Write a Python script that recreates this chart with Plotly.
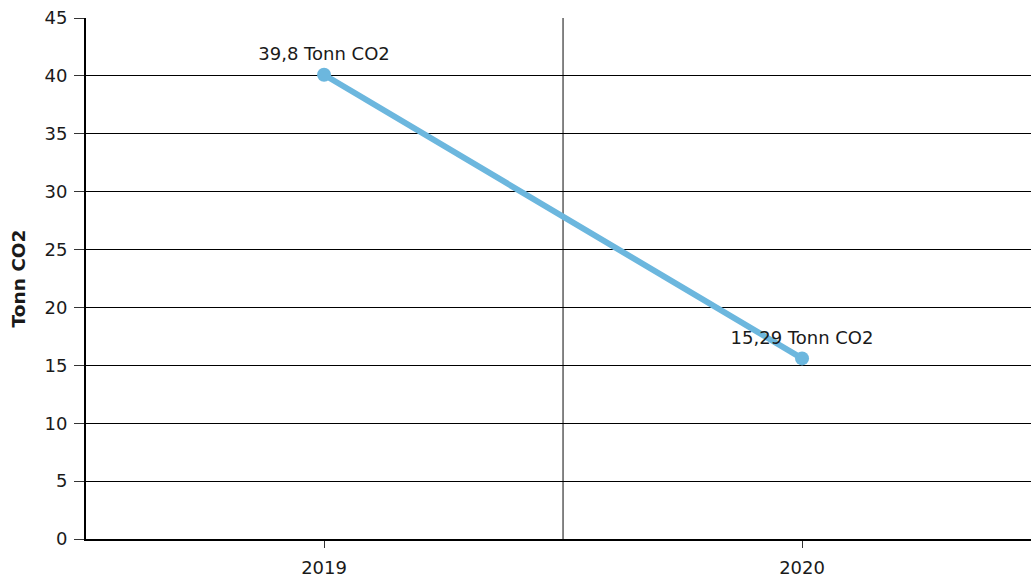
import plotly.graph_objects as go

# Datos del gráfico
years = ['2019', '2020']
tonn_co2 = [40.1, 15.6]
point_labels = ['39,8 Tonn CO2', '15,29 Tonn CO2']
y_ticks = [0, 5, 10, 15, 20, 25, 30, 35, 40, 45]

line_color = '#6cb7de'
font_family = 'Verdana, DejaVu Sans, sans-serif'

fig = go.Figure()

fig.add_trace(go.Scatter(
    x=years,
    y=tonn_co2,
    mode='lines+markers+text',
    text=point_labels,
    textposition='top center',
    textfont=dict(size=18, color='#1a1a1a'),
    line=dict(color=line_color, width=6),
    marker=dict(size=14, color=line_color),
    showlegend=False,
    cliponaxis=False,
))

# Línea vertical entre categorías
fig.add_vline(x=0.5, line=dict(color='#333333', width=1.2), layer='below')

fig.update_layout(
    width=1031,
    height=581,
    font=dict(family=font_family, size=18, color='#1a1a1a'),
    plot_bgcolor='white',
    paper_bgcolor='white',
    margin=dict(l=86, r=0, t=18, b=42),
    xaxis=dict(
        type='category',
        range=[-0.498, 1.479],
        showgrid=False,
        showline=True,
        linecolor='black',
        linewidth=2,
        ticks='outside',
        ticklen=7,
        tickcolor='#333333',
        tickfont=dict(size=18),
        ticklabelstandoff=4,
        zeroline=False,
    ),
    yaxis=dict(
        range=[0, 45],
        tickvals=y_ticks,
        showgrid=True,
        gridcolor='black',
        gridwidth=1,
        showline=True,
        linecolor='black',
        linewidth=2,
        ticks='outside',
        ticklen=10,
        tickcolor='#333333',
        tickfont=dict(size=18),
        ticklabelstandoff=3,
        zeroline=False,
        title=dict(text='<b>Tonn CO2</b>', font=dict(size=18.5), standoff=14),
    ),
)

fig.write_html(
    'out.html',
    config={'displayModeBar': False},
    post_script="document.body.style.margin='0px';",
)
